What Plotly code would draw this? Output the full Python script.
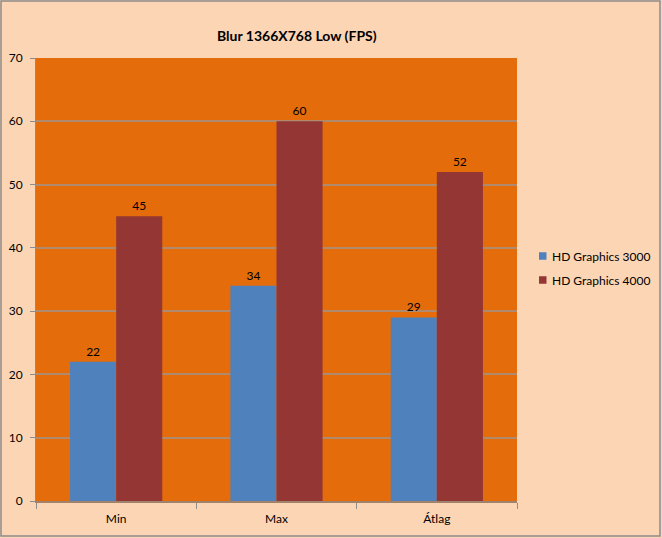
import plotly.graph_objects as go

categories = ["Min", "Max", "Átlag"]
hd3000 = [22, 34, 29]
hd4000 = [45, 60, 52]
series_names = ["HD Graphics 3000", "HD Graphics 4000"]
series_colors = ["#4F81BD", "#943634"]

FONT = "Lato, 'Open Sans', sans-serif"
W, H = 662, 538
L, R, T, B = 36, 145, 58, 37
pw, ph = W - L - R, H - T - B


def px_x(p):
    return (p - L) / pw


def px_y(p):
    return (H - B - p) / ph


fig = go.Figure()
for vals, name, col in zip([hd3000, hd4000], series_names, series_colors):
    fig.add_trace(go.Bar(x=categories, y=vals, name=name,
                         marker=dict(color=col, line=dict(width=0)),
                         text=vals, textposition="outside",
                         textfont=dict(size=12, color="#000000"), cliponaxis=False))

annotations = [dict(text="<b>Blur 1366X768 Low (FPS)</b>", xref="paper", yref="paper",
                    x=px_x(297), y=px_y(35), xanchor="center", yanchor="middle",
                    showarrow=False, font=dict(size=14, family=FONT))]
shapes = [dict(type="rect", xref="paper", yref="paper",
               x0=px_x(1), x1=px_x(660), y0=px_y(536), y1=px_y(1),
               line=dict(color="#8C8C8C", width=1.5), layer="below")]

legend_rows = [256, 280]
for name, col, yy in zip(series_names, series_colors, legend_rows):
    shapes.append(dict(type="rect", xref="paper", yref="paper",
                       x0=px_x(539), x1=px_x(546.5), y0=px_y(yy + 3.75), y1=px_y(yy - 3.75),
                       fillcolor=col, line=dict(width=0)))
    annotations.append(dict(text=name, xref="paper", yref="paper",
                            x=px_x(550), y=px_y(yy), xanchor="left", yanchor="middle",
                            showarrow=False, font=dict(size=12, family=FONT)))

fig.update_layout(
    width=W, height=H,
    margin=dict(l=L, r=R, t=T, b=B, autoexpand=False),
    paper_bgcolor="#FCD5B5",
    plot_bgcolor="#E46C0A",
    font=dict(family=FONT, size=12, color="#000000"),
    barmode="group",
    bargap=0.425,
    bargroupgap=0,
    showlegend=False,
    xaxis=dict(showgrid=False, ticks="outside", tickson="boundaries", ticklen=6,
               tickcolor="#8C8C8C", showline=True, linecolor="#A0826A", linewidth=2,
               tickfont=dict(size=12), ticklabelstandoff=6, fixedrange=True),
    yaxis=dict(range=[0, 70], dtick=10, showgrid=True, gridcolor="#B08A6C", gridwidth=1.5,
               ticks="outside", ticklen=5, tickcolor="#8C8C8C", showline=True,
               linecolor="#8C8C8C", linewidth=1, zeroline=False,
               tickfont=dict(size=12), ticklabelstandoff=5, fixedrange=True),
    annotations=annotations,
    shapes=shapes,
)

fig.write_html("out.html", config={"displayModeBar": False},
               post_script="document.body.style.margin='0';document.body.style.overflow='hidden';")
